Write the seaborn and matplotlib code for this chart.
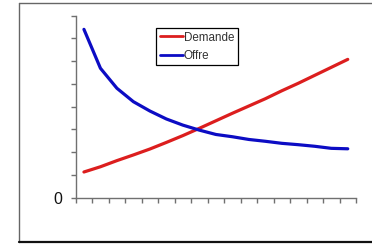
import matplotlib
matplotlib.use("Agg")
import matplotlib.pyplot as plt
from matplotlib.lines import Line2D
import seaborn as sns
import pandas as pd
import numpy as np

# Data
periods = list(range(17))
demande = [1.13, 1.36, 1.63, 1.88, 2.14, 2.43, 2.73, 3.05, 3.38, 3.71, 4.03, 4.35, 4.70, 5.03, 5.38, 5.73, 6.08]
offre = [7.40, 5.69, 4.81, 4.22, 3.81, 3.46, 3.19, 2.97, 2.78, 2.68, 2.56, 2.48, 2.39, 2.33, 2.26, 2.17, 2.15]
series_names = ["Demande", "Offre"]
series_colors = ["#dc1e1e", "#0c0cc4"]

sns.set_style("white")
plt.rcParams['font.family'] = ['Liberation Sans', 'DejaVu Sans']

df = pd.DataFrame({
    "x": periods * 2,
    "y": demande + offre,
    "serie": [series_names[0]] * len(periods) + [series_names[1]] * len(periods),
})

fig = plt.figure(figsize=(3.72, 2.44), dpi=100)
ax = fig.add_axes([75.7 / 372, 1 - 197.7 / 244, (356 - 75.7) / 372, (197.7 - 15.7) / 244])

sns.lineplot(data=df, x="x", y="y", hue="serie", palette=dict(zip(series_names, series_colors)),
             linewidth=2.3, ax=ax, legend=False)

ax.set_xlim(-0.5, len(periods) - 0.5)
ax.set_ylim(0, 8)
ax.set_xticks(np.arange(-0.5, len(periods), 1.0))
ax.set_xticklabels([])
ax.set_yticks(range(0, 9))
ax.set_yticklabels(["0"] + [""] * 8, fontsize=11.5, color="#111111")
ax.set_xlabel("")
ax.set_ylabel("")
for s in ["top", "right"]:
    ax.spines[s].set_visible(False)
for s in ["left", "bottom"]:
    ax.spines[s].set_color("#707070")
    ax.spines[s].set_linewidth(1.0)
ax.tick_params(axis="both", which="both", direction="out", length=3.5, width=1.0,
               color="#707070", left=True, bottom=True, pad=6)
ax.patch.set_alpha(0)

handles = [Line2D([0], [0], color=c, lw=2.0) for c in series_colors]
leg = fig.legend(handles, series_names, loc="upper left", bbox_to_anchor=(156 / 372, 1 - 28 / 244),
                 fontsize=8.4, frameon=True, fancybox=False, edgecolor="black", framealpha=1,
                 borderpad=0.3, handlelength=2.0, handletextpad=0.1, labelspacing=0.55,
                 borderaxespad=0)
leg.get_frame().set_linewidth(0.9)
for t in leg.get_texts():
    t.set_color("#333333")

# outer chart frame
fig.add_artist(Line2D([19 / 372, 19 / 372], [1 - 3 / 244, 1 - 242 / 244], transform=fig.transFigure,
                      color="#666666", lw=1.0))
fig.add_artist(Line2D([19 / 372, 1.0], [1 - 3 / 244, 1 - 3 / 244], transform=fig.transFigure,
                      color="#666666", lw=1.0))
fig.add_artist(Line2D([19 / 372, 1.0], [1 - 242 / 244, 1 - 242 / 244], transform=fig.transFigure,
                      color="#111111", lw=1.6))

fig.savefig("out.png", dpi=100)
